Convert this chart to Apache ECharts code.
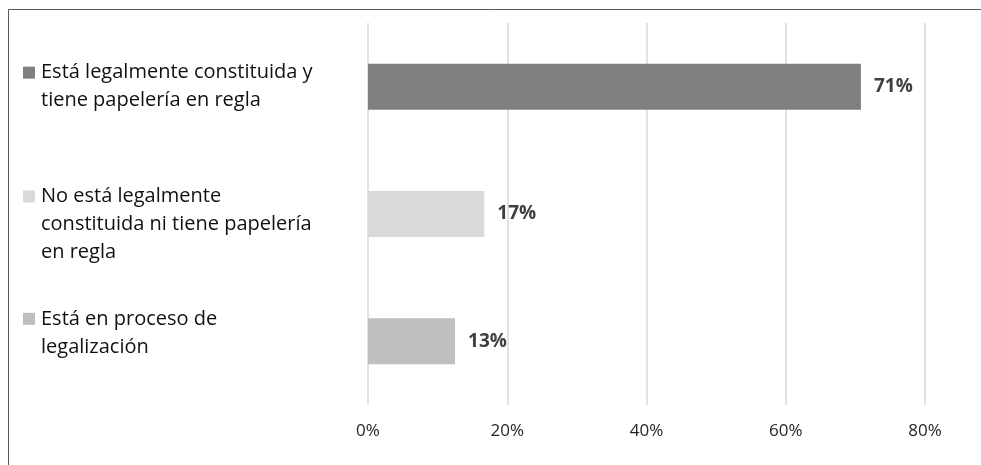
<!DOCTYPE html>
<html>
<head>
<meta charset="utf-8">
<script src="https://cdn.jsdelivr.net/npm/echarts@6/dist/echarts.min.js"></script>
<style>html,body{margin:0;padding:0;background:#fff}#c{width:981px;height:465px}</style>
</head>
<body>
<div id="c"></div>
<script>
// Data
const categories = [
  ['Está legalmente constituida y', 'tiene papelería en regla'],
  ['No está legalmente', 'constituida ni tiene papelería', 'en regla'],
  ['Está en proceso de', 'legalización']
];
const values = [70.8, 16.7, 12.5];
const xTicks = [0, 20, 40, 60, 80];

// Styles
const barColors = ['#808080', '#d9d9d9', '#bfbfbf'];
const labelShift = [0, 21, -17]; // spacer heights (positive: top, negative: bottom)
const FONT = '"Open Sans", sans-serif';

const rich = {
  t: { fontSize: 20, color: '#111', fontFamily: FONT, lineHeight: 28, align: 'left' },
  sp: { width: 18, height: 12, align: 'left' },
  g: { width: 6, height: 12, align: 'left' }
};
barColors.forEach((c, i) => {
  rich['sq' + i] = { width: 12, height: 12, backgroundColor: c, verticalAlign: 'middle', align: 'left' };
});
labelShift.forEach((s, i) => {
  rich['e' + i] = { height: Math.abs(s), lineHeight: Math.abs(s), fontSize: 1 };
});

const yData = categories.map((lines, i) => 'c' + i);

const chart = echarts.init(document.getElementById('c'), null, { renderer: 'canvas' });
chart.setOption({
  animation: false,
  backgroundColor: '#fff',
  graphic: [{
    type: 'rect', shape: { x: 8.5, y: 9.5, width: 1100, height: 600 },
    style: { fill: 'none', stroke: '#595959', lineWidth: 1 }, silent: true, z: 100
  }],
  grid: { left: 368, right: 56, top: 23, bottom: 60, outerBoundsMode: 'none', containLabel: false },
  xAxis: {
    type: 'value', min: xTicks[0], max: xTicks[xTicks.length - 1], interval: 20,
    axisLine: { show: false }, axisTick: { show: false },
    splitLine: { show: true, lineStyle: { color: '#d9d9d9', width: 1.5 } },
    axisLabel: { formatter: '{value}%', fontSize: 17, color: '#262626', fontFamily: FONT, margin: 18 }
  },
  yAxis: {
    type: 'category', inverse: true, data: yData,
    axisLine: { show: false }, axisTick: { show: false },
    axisLabel: {
      align: 'left', margin: 345, verticalAlign: 'middle',
      formatter: function (val, idx) {
        const lines = categories[idx];
        let rows = lines.map((l, k) => k === 0 ? '{sq' + idx + '|}{g|}{t|' + l + '}' : '{sp|}{t|' + l + '}');
        const s = labelShift[idx];
        if (s > 0) rows.unshift('{e' + idx + '| }');
        if (s < 0) rows.push('{e' + idx + '| }');
        return rows.join('\n');
      },
      rich: rich
    }
  },
  series: [{
    type: 'bar', barWidth: 46,
    data: values.map((v, i) => ({ value: v, itemStyle: { color: barColors[i] } })),
    label: {
      show: true, position: 'right', distance: 13,
      formatter: p => Math.round(p.value) + '%',
      fontSize: 19, fontWeight: 'bold', color: '#404040', fontFamily: FONT
    }
  }]
});
</script>
</body>
</html>
